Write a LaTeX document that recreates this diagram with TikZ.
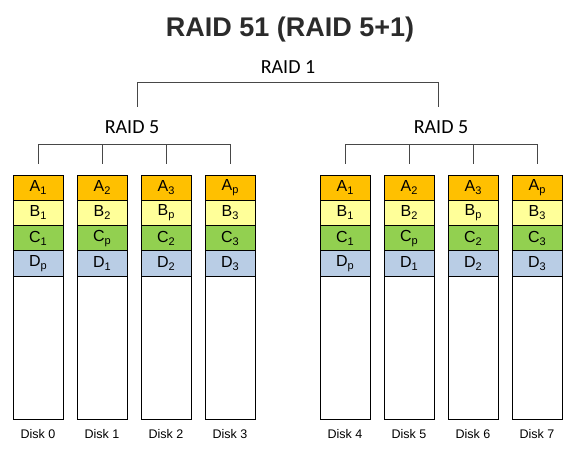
\documentclass[tikz,border=0pt]{standalone}
\usepackage{fontspec}
\setmainfont{Liberation Sans}
\newfontfamily\carlito{Carlito}
\usepackage{tikz}
\usetikzlibrary{positioning, calc}
\definecolor{stripeA}{HTML}{FFC000}
\definecolor{stripeB}{HTML}{FFFF99}
\definecolor{stripeC}{HTML}{92D050}
\definecolor{stripeD}{HTML}{B9CDE5}
\definecolor{dark}{HTML}{333333}
\newcommand{\cellsub}[1]{\raisebox{-3pt}{\fontsize{11}{11}\selectfont #1}}
\tikzstyle{cell}    = [rectangle, draw=black, line width=0.8pt, minimum width=50pt,
                       minimum height=25.25pt, inner sep=0pt, outer sep=0pt,
                       font=\fontsize{16}{16}\selectfont]
\tikzstyle{cellA}   = [cell, fill=stripeA]
\tikzstyle{cellB}   = [cell, fill=stripeB]
\tikzstyle{cellC}   = [cell, fill=stripeC]
\tikzstyle{cellD}   = [cell, fill=stripeD]
\tikzstyle{cellE}   = [cell, fill=white, minimum height=143pt]
\tikzstyle{disklbl} = [inner sep=0pt, font=\fontsize{12.5}{12.5}\selectfont]
\tikzstyle{raidlbl} = [inner sep=0pt, font=\carlito\fontsize{20}{20}\selectfont]
\tikzstyle{bracket} = [line width=1pt, color=dark!90]

\begin{document}
\begin{tikzpicture}[x=1pt, y=1pt, node distance=0pt and 14pt]
  \useasboundingbox (0,0) rectangle (579,453);

  %% Title
  \node[font=\fontsize{27}{27}\selectfont\bfseries, text=dark!85!black] (title) at (290,423)
        {RAID 51 (RAID 5+1)};

  %% First RAID 5 set
  \node[cellA] (a0) at (38,265.4) {A\cellsub{1}};
  \node[cellB, below=of a0] (b0) {B\cellsub{1}};
  \node[cellC, below=of b0] (c0) {C\cellsub{1}};
  \node[cellD, below=of c0] (d0) {D\cellsub{p}};
  \node[cellE, below=of d0] (e0) {};
  \node[cellA, right=of a0] (a1) {A\cellsub{2}};
  \node[cellB, below=of a1] (b1) {B\cellsub{2}};
  \node[cellC, below=of b1] (c1) {C\cellsub{p}};
  \node[cellD, below=of c1] (d1) {D\cellsub{1}};
  \node[cellE, below=of d1] (e1) {};
  \node[cellA, right=of a1] (a2) {A\cellsub{3}};
  \node[cellB, below=of a2] (b2) {B\cellsub{p}};
  \node[cellC, below=of b2] (c2) {C\cellsub{2}};
  \node[cellD, below=of c2] (d2) {D\cellsub{2}};
  \node[cellE, below=of d2] (e2) {};
  \node[cellA, right=of a2] (a3) {A\cellsub{p}};
  \node[cellB, below=of a3] (b3) {B\cellsub{3}};
  \node[cellC, below=of b3] (c3) {C\cellsub{3}};
  \node[cellD, below=of c3] (d3) {D\cellsub{3}};
  \node[cellE, below=of d3] (e3) {};

  %% Second RAID 5 set (mirror)
  \node[cellA, right=65pt of a3] (a4) {A\cellsub{1}};
  \node[cellB, below=of a4] (b4) {B\cellsub{1}};
  \node[cellC, below=of b4] (c4) {C\cellsub{1}};
  \node[cellD, below=of c4] (d4) {D\cellsub{p}};
  \node[cellE, below=of d4] (e4) {};
  \node[cellA, right=of a4] (a5) {A\cellsub{2}};
  \node[cellB, below=of a5] (b5) {B\cellsub{2}};
  \node[cellC, below=of b5] (c5) {C\cellsub{p}};
  \node[cellD, below=of c5] (d5) {D\cellsub{1}};
  \node[cellE, below=of d5] (e5) {};
  \node[cellA, right=of a5] (a6) {A\cellsub{3}};
  \node[cellB, below=of a6] (b6) {B\cellsub{p}};
  \node[cellC, below=of b6] (c6) {C\cellsub{2}};
  \node[cellD, below=of c6] (d6) {D\cellsub{2}};
  \node[cellE, below=of d6] (e6) {};
  \node[cellA, right=of a6] (a7) {A\cellsub{p}};
  \node[cellB, below=of a7] (b7) {B\cellsub{3}};
  \node[cellC, below=of b7] (c7) {C\cellsub{3}};
  \node[cellD, below=of c7] (d7) {D\cellsub{3}};
  \node[cellE, below=of d7] (e7) {};

  %% Disk labels
  \node[disklbl, below=10pt of e0] (l0) {Disk 0};
  \node[disklbl, below=10pt of e1] (l1) {Disk 1};
  \node[disklbl, below=10pt of e2] (l2) {Disk 2};
  \node[disklbl, below=10pt of e3] (l3) {Disk 3};
  \node[disklbl, below=10pt of e4] (l4) {Disk 4};
  \node[disklbl, below=10pt of e5] (l5) {Disk 5};
  \node[disklbl, below=10pt of e6] (l6) {Disk 6};
  \node[disklbl, below=10pt of e7] (l7) {Disk 7};

  %% RAID labels
  \node[raidlbl] (raid1) at (288,386) {RAID 1};
  \node[raidlbl] (raid5l) at (132,326) {RAID 5};
  \node[raidlbl] (raid5r) at (441,326) {RAID 5};

  %% Brackets
  \draw[bracket] ([yshift=11pt]a0.north) |- ([yshift=30pt]a3.north)
                 -- ([yshift=11pt]a3.north);
  \draw[bracket] ([yshift=11pt]a1.north) -- ([yshift=30pt]a1.north);
  \draw[bracket] ([yshift=11pt]a2.north) -- ([yshift=30pt]a2.north);
  \draw[bracket] ([yshift=11pt]a4.north) |- ([yshift=30pt]a7.north)
                 -- ([yshift=11pt]a7.north);
  \draw[bracket] ([yshift=11pt]a5.north) -- ([yshift=30pt]a5.north);
  \draw[bracket] ([yshift=11pt]a6.north) -- ([yshift=30pt]a6.north);
  \draw[bracket] ([xshift=5pt, yshift=20pt]raid5l.center) |- ([xshift=-3pt, yshift=44pt]raid5r.center)
                 -- ([xshift=-3pt, yshift=20pt]raid5r.center);

\end{tikzpicture}
\end{document}
